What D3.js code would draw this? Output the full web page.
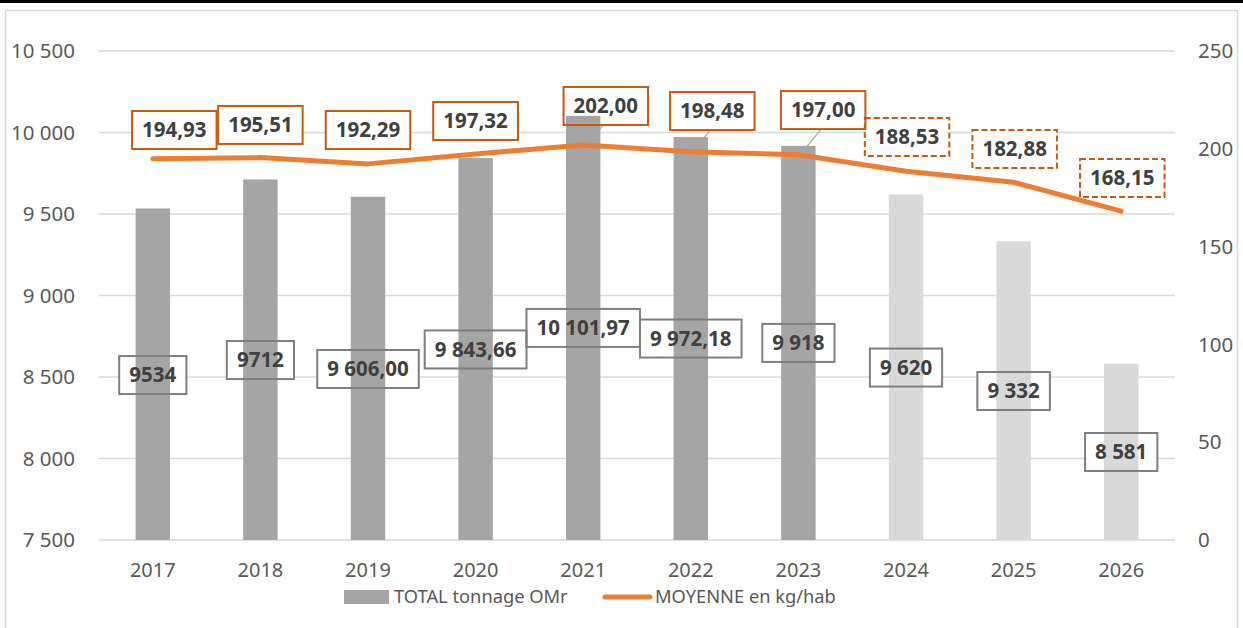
<!DOCTYPE html>
<html>
<head>
<meta charset="utf-8">
<script src="https://d3js.org/d3.v7.min.js"></script>
<style>
body { margin: 0; background: #fff; }
svg { display: block; font-family: "Noto Sans", "Open Sans", sans-serif; }
.tick-label { fill: #595959; font-size: 20.5px; }
.year-label { fill: #595959; font-size: 20px; }
.legend-text { fill: #595959; font-size: 18.3px; }
.lbl { fill: #404040; font-size: 20.5px; font-weight: bold; }
</style>
</head>
<body>
<svg width="1243" height="628"></svg>
<script>

// data
var years = ["2017", "2018", "2019", "2020", "2021", "2022", "2023", "2024", "2025", "2026"];
var tonnage = [9534, 9712, 9606, 9843.66, 10101.97, 9972.18, 9918, 9620, 9332, 8581];
var tonnageLabels = ["9534", "9712", "9 606,00", "9 843,66", "10 101,97", "9 972,18", "9 918", "9 620", "9 332", "8 581"];
var moyenne = [194.93, 195.51, 192.29, 197.32, 202.00, 198.48, 197.00, 188.53, 182.88, 168.15];
var moyenneLabels = ["194,93", "195,51", "192,29", "197,32", "202,00", "198,48", "197,00", "188,53", "182,88", "168,15"];
var isForecast = [false, false, false, false, false, false, false, true, true, true];
var leftTicks = [7500, 8000, 8500, 9000, 9500, 10000, 10500];
var rightTicks = [0, 50, 100, 150, 200, 250];

// where the data labels were dragged to (in axis units / band fractions)
var barLabelAt = [8512, 8604, 8549, 8669, 8801, 8736, 8709, 8558, 8414, 8040];
var lineLabelAt = [209.6, 212.2, 209.6, 214.2, 221.9, 219.3, 219.8, 206.0, 199.9, 185.1];
var lineLabelShift = [0.2, 0, 0, 0, 0.21, 0.2, 0.23, 0.01, 0.01, 0.01];
var hasLeader = [false, false, false, false, true, true, true, false, false, false];

var svg = d3.select("svg");
var W = 1243;

var fmt = d3.formatLocale({decimal: ",", thousands: " ", grouping: [3], currency: ["", ""]}).format(",d");

var x = d3.scaleBand().domain(years).range([99, 1175]).paddingInner(0.68).paddingOuter(0.34);
var yL = d3.scaleLinear().domain([7500, 10500]).range([540, 51]);
var yR = d3.scaleLinear().domain([0, 250]).range([540, 51]);
var cx = function(i) { return x(years[i]) + x.bandwidth() / 2; };

// frame
svg.append("rect").attr("x", 5.5).attr("y", 10.5).attr("width", 1232).attr("height", 640)
    .attr("fill", "none").attr("stroke", "#d9d9d9").attr("stroke-width", 1.5);
svg.append("rect").attr("x", 0).attr("y", 0).attr("width", W).attr("height", 3).attr("fill", "#000");

// gridlines
svg.append("g").selectAll("line").data(leftTicks).join("line")
    .attr("x1", 99).attr("x2", 1175)
    .attr("y1", function(d) { return yL(d); }).attr("y2", function(d) { return yL(d); })
    .attr("stroke", "#d9d9d9").attr("stroke-width", 1.5);

// axes labels
svg.append("g").selectAll("text").data(leftTicks).join("text")
    .attr("class", "tick-label")
    .attr("x", 75).attr("y", function(d) { return yL(d); })
    .attr("dy", "0.35em").attr("text-anchor", "end")
    .text(function(d) { return fmt(d); });

svg.append("g").selectAll("text").data(rightTicks).join("text")
    .attr("class", "tick-label")
    .attr("x", 1198).attr("y", function(d) { return yR(d); })
    .attr("dy", "0.35em")
    .text(function(d) { return d; });

svg.append("g").selectAll("text").data(years).join("text")
    .attr("class", "year-label")
    .attr("x", function(d) { return x(d) + x.bandwidth() / 2; })
    .attr("y", 570).attr("dy", "0.35em").attr("text-anchor", "middle")
    .text(function(d) { return d; });

// layers: label backgrounds sit under the bars, borders and text on top
var gBack = svg.append("g");
var gBars = svg.append("g");
var gLead = svg.append("g");
var gLine = svg.append("g");
var gFront = svg.append("g");

// bars
gBars.selectAll("rect").data(tonnage).join("rect")
    .attr("x", function(d, i) { return x(years[i]); })
    .attr("width", x.bandwidth())
    .attr("y", function(d) { return yL(d); })
    .attr("height", function(d) { return yL(7500) - yL(d); })
    .attr("fill", function(d, i) { return isForecast[i] ? "#d9d9d9" : "#a5a5a5"; });

// line
var line = d3.line()
    .x(function(d, i) { return cx(i); })
    .y(function(d) { return yR(d); });

gLine.append("path")
    .datum(moyenne)
    .attr("d", line)
    .attr("fill", "none")
    .attr("stroke", "#ed7d31")
    .attr("stroke-width", 5)
    .attr("stroke-linejoin", "round")
    .attr("stroke-linecap", "round");

// boxed labels
function boxLabel(px, py, txt, stroke, dashed) {
  var back = gBack.append("rect");
  var border = gFront.append("rect");
  var t = gFront.append("text").attr("class", "lbl")
      .attr("x", px).attr("y", py).attr("dy", "0.36em")
      .attr("text-anchor", "middle").text(txt);
  var bw = t.node().getBBox().width + 20, bh = 38;
  back.attr("x", px - bw / 2).attr("y", py - bh / 2)
      .attr("width", bw).attr("height", bh).attr("fill", "#fff");
  border.attr("x", px - bw / 2).attr("y", py - bh / 2)
      .attr("width", bw).attr("height", bh)
      .attr("fill", "none").attr("stroke", stroke).attr("stroke-width", 2)
      .attr("stroke-dasharray", dashed ? "6,3" : null);
  return {bottom: py + bh / 2};
}

tonnage.forEach(function(d, i) {
  boxLabel(cx(i), yL(barLabelAt[i]), tonnageLabels[i], "#7f7f7f", false);
});
moyenne.forEach(function(d, i) {
  var px = cx(i) + lineLabelShift[i] * x.step();
  var py = yR(lineLabelAt[i]);
  var b = boxLabel(px, py, moyenneLabels[i], "#c55a11", isForecast[i]);
  if (hasLeader[i]) {
    gLead.append("line")
        .attr("x1", px - 2).attr("y1", b.bottom)
        .attr("x2", cx(i) + 2).attr("y2", yR(d))
        .attr("stroke", "#a6a6a6").attr("stroke-width", 1.2);
  }
});

// legend
var lg = svg.append("g");
lg.append("rect").attr("x", 344).attr("y", 590).attr("width", 45).attr("height", 14).attr("fill", "#a5a5a5");
lg.append("text").attr("class", "legend-text").attr("x", 394).attr("y", 597).attr("dy", "0.35em").text("TOTAL tonnage OMr");
lg.append("line").attr("x1", 605).attr("x2", 650).attr("y1", 597).attr("y2", 597)
    .attr("stroke", "#ed7d31").attr("stroke-width", 5).attr("stroke-linecap", "round");
lg.append("text").attr("class", "legend-text").attr("x", 655).attr("y", 597).attr("dy", "0.35em").text("MOYENNE en kg/hab");

</script>
</body>
</html>
